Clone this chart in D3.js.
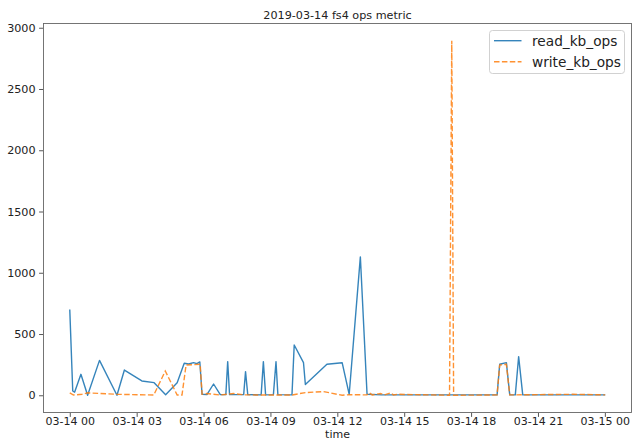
<!DOCTYPE html>
<html>
<head>
<meta charset="utf-8">
<script src="https://cdn.jsdelivr.net/npm/d3@7"></script>
<style>
  html, body { margin: 0; padding: 0; background: #fff; }
  svg { display: block; font-family: "DejaVu Sans", sans-serif; }
</style>
</head>
<body>
<svg id="chart" width="641" height="441"></svg>
<script>
// ---- data ----
const titleText = "2019-03-14 fs4 ops metric";
const xLabel = "time";
const seriesNames = ["read_kb_ops", "write_kb_ops"];

const readTimes = [
  "2019-03-14 00:00","2019-03-14 00:08","2019-03-14 00:13","2019-03-14 00:30","2019-03-14 00:48",
  "2019-03-14 01:20","2019-03-14 02:07","2019-03-14 02:27","2019-03-14 03:14","2019-03-14 03:47",
  "2019-03-14 04:18","2019-03-14 04:49","2019-03-14 05:08","2019-03-14 05:20","2019-03-14 05:33",
  "2019-03-14 05:42","2019-03-14 05:50","2019-03-14 05:56","2019-03-14 06:09","2019-03-14 06:27",
  "2019-03-14 06:45","2019-03-14 07:00","2019-03-14 07:05","2019-03-14 07:10","2019-03-14 07:48",
  "2019-03-14 07:53","2019-03-14 07:59","2019-03-14 08:35","2019-03-14 08:41","2019-03-14 08:47",
  "2019-03-14 09:08","2019-03-14 09:15","2019-03-14 09:20","2019-03-14 09:58","2019-03-14 10:04",
  "2019-03-14 10:29","2019-03-14 10:34","2019-03-14 11:32","2019-03-14 12:13","2019-03-14 12:32",
  "2019-03-14 13:02","2019-03-14 13:20","2019-03-14 14:00","2019-03-14 15:00","2019-03-14 16:00",
  "2019-03-14 17:00","2019-03-14 18:00","2019-03-14 19:10","2019-03-14 19:17","2019-03-14 19:35",
  "2019-03-14 19:44","2019-03-14 19:59","2019-03-14 20:08","2019-03-14 20:19","2019-03-14 21:00",
  "2019-03-14 22:00","2019-03-14 23:00","2019-03-15 00:01"
];
const readValues = [
  700, 35, 25, 171, 0,
  285, 0, 206, 117, 103,
  5, 103, 261, 255, 266,
  258, 272, 8, 5, 92,
  5, 5, 275, 5, 5,
  193, 5, 3, 275, 3,
  5, 275, 5, 3, 410,
  266, 88, 253, 266, 8,
  1130, 8, 3, 3, 3,
  3, 3, 3, 253, 266,
  3, 3, 315, 3, 3,
  3, 3, 3
];

const writeTimes = [
  "2019-03-14 00:00","2019-03-14 00:10","2019-03-14 00:33","2019-03-14 00:48","2019-03-14 02:07",
  "2019-03-14 03:46","2019-03-14 04:17","2019-03-14 04:49","2019-03-14 05:02","2019-03-14 05:13",
  "2019-03-14 05:51","2019-03-14 05:56","2019-03-14 06:09","2019-03-14 06:45","2019-03-14 07:21",
  "2019-03-14 07:52","2019-03-14 09:58","2019-03-14 10:34","2019-03-14 11:23","2019-03-14 12:13",
  "2019-03-14 12:32","2019-03-14 13:20","2019-03-14 13:26","2019-03-14 13:34","2019-03-14 13:56",
  "2019-03-14 14:07","2019-03-14 14:23","2019-03-14 14:31","2019-03-14 14:43","2019-03-14 17:02",
  "2019-03-14 17:08","2019-03-14 17:13","2019-03-14 19:10","2019-03-14 19:17","2019-03-14 19:35",
  "2019-03-14 19:44","2019-03-14 22:35","2019-03-15 00:01"
];
const writeValues = [
  20, 2, 8, 20, 8,
  2, 198, 2, 2, 247,
  253, 8, 14, 2, 14,
  3, 2, 22, 30, 0,
  5, 3, 20, 3, 14,
  3, 20, 3, 8, 0,
  2894, 0, 3, 247, 253,
  3, 8, 3
];

const xTickLabels = ["2019-03-14 00:00","2019-03-14 03:00","2019-03-14 06:00","2019-03-14 09:00",
  "2019-03-14 12:00","2019-03-14 15:00","2019-03-14 18:00","2019-03-14 21:00","2019-03-15 00:00"];
const yTickValues = [0, 500, 1000, 1500, 2000, 2500, 3000];

// ---- layout ----
const W = 641, H = 441;
const plot = { left: 43, right: 632, top: 23, bottom: 413 };
const colors = ["#1f77b4", "#ff7f0e"];
const fontPx = "11px";

const parse = d3.timeParse("%Y-%m-%d %H:%M");
const readData = readTimes.map((t, i) => ({ t: parse(t), v: readValues[i] }));
const writeData = writeTimes.map((t, i) => ({ t: parse(t), v: writeValues[i] }));

const allT = readData.concat(writeData).map(d => d.t);
const [t0, t1] = d3.extent(allT);
const tSpan = t1 - t0;
const x = d3.scaleTime()
  .domain([new Date(+t0 - 0.05 * tSpan), new Date(+t1 + 0.05 * tSpan)])
  .range([plot.left, plot.right]);

const allV = readValues.concat(writeValues);
const vMin = d3.min(allV), vMax = d3.max(allV);
const vPad = 0.05 * (vMax - vMin);
const y = d3.scaleLinear()
  .domain([vMin - vPad, vMax + vPad])
  .range([plot.bottom, plot.top]);

const svg = d3.select("#chart");
svg.append("rect").attr("width", W).attr("height", H).attr("fill", "#fff");

// axes
const fmt = d3.timeFormat("%m-%d %H");
const xAxis = d3.axisBottom(x)
  .tickValues(xTickLabels.map(parse))
  .tickFormat(fmt)
  .tickSize(3.9)
  .tickPadding(0.7);
const gx = svg.append("g").attr("transform", `translate(0,${plot.bottom})`).call(xAxis);
gx.select(".domain").remove();
gx.selectAll("line").attr("stroke", "#444").attr("stroke-width", 0.9);
gx.selectAll("text").attr("fill", "#222").style("font-size", fontPx)
  .style("font-family", "DejaVu Sans, sans-serif");

const yAxis = d3.axisLeft(y)
  .tickValues(yTickValues)
  .tickFormat(d3.format("d"))
  .tickSize(3.9)
  .tickPadding(3.5);
const gy = svg.append("g").attr("transform", `translate(${plot.left},0)`).call(yAxis);
gy.select(".domain").remove();
gy.selectAll("line").attr("stroke", "#444").attr("stroke-width", 0.9);
gy.selectAll("text").attr("fill", "#222").style("font-size", "11.2px")
  .style("font-family", "DejaVu Sans, sans-serif");

// lines
const line = d3.line().x(d => x(d.t)).y(d => y(d.v));
svg.append("clipPath").attr("id", "clip").append("rect")
  .attr("x", plot.left).attr("y", plot.top)
  .attr("width", plot.right - plot.left).attr("height", plot.bottom - plot.top);

svg.append("path").datum(readData)
  .attr("clip-path", "url(#clip)")
  .attr("d", line).attr("fill", "none")
  .attr("stroke", colors[0]).attr("stroke-width", 1.4).attr("stroke-opacity", 0.9)
  .attr("stroke-linejoin", "round");
svg.append("path").datum(writeData)
  .attr("clip-path", "url(#clip)")
  .attr("d", line).attr("fill", "none")
  .attr("stroke", colors[1]).attr("stroke-width", 1.4).attr("stroke-opacity", 0.85)
  .attr("stroke-dasharray", "5.5,2.4");

// frame
svg.append("rect")
  .attr("x", plot.left + 0.5).attr("y", plot.top + 0.5)
  .attr("width", plot.right - plot.left - 1).attr("height", plot.bottom - plot.top - 1)
  .attr("fill", "none").attr("stroke", "#666").attr("stroke-width", 0.9);

// title and axis label
svg.append("text").attr("x", (plot.left + plot.right) / 2).attr("y", 19)
  .attr("text-anchor", "middle").attr("fill", "#222")
  .style("font-size", "11.2px").text(titleText);
svg.append("text").attr("x", (plot.left + plot.right) / 2).attr("y", 438.4)
  .attr("text-anchor", "middle").attr("fill", "#222")
  .style("font-size", fontPx).text(xLabel);

// legend
const lg = svg.append("g");
lg.append("rect").attr("x", 489.5).attr("y", 30.5).attr("width", 135).attr("height", 43)
  .attr("rx", 3).attr("fill", "#fff").attr("fill-opacity", 0.8)
  .attr("stroke", "#ccc").attr("stroke-width", 0.9);
seriesNames.forEach((name, i) => {
  const yy = 40.7 + i * 21;
  lg.append("line").attr("x1", 494).attr("x2", 521.5).attr("y1", yy).attr("y2", yy)
    .attr("stroke", colors[i]).attr("stroke-width", 1.4)
    .attr("stroke-opacity", i === 0 ? 0.9 : 0.85)
    .attr("stroke-dasharray", i === 1 ? "5.5,2.4" : null);
  lg.append("text").attr("x", 532).attr("y", yy + 4.9)
    .attr("fill", "#222").style("font-size", "13.7px").text(name);
});
</script>
</body>
</html>
